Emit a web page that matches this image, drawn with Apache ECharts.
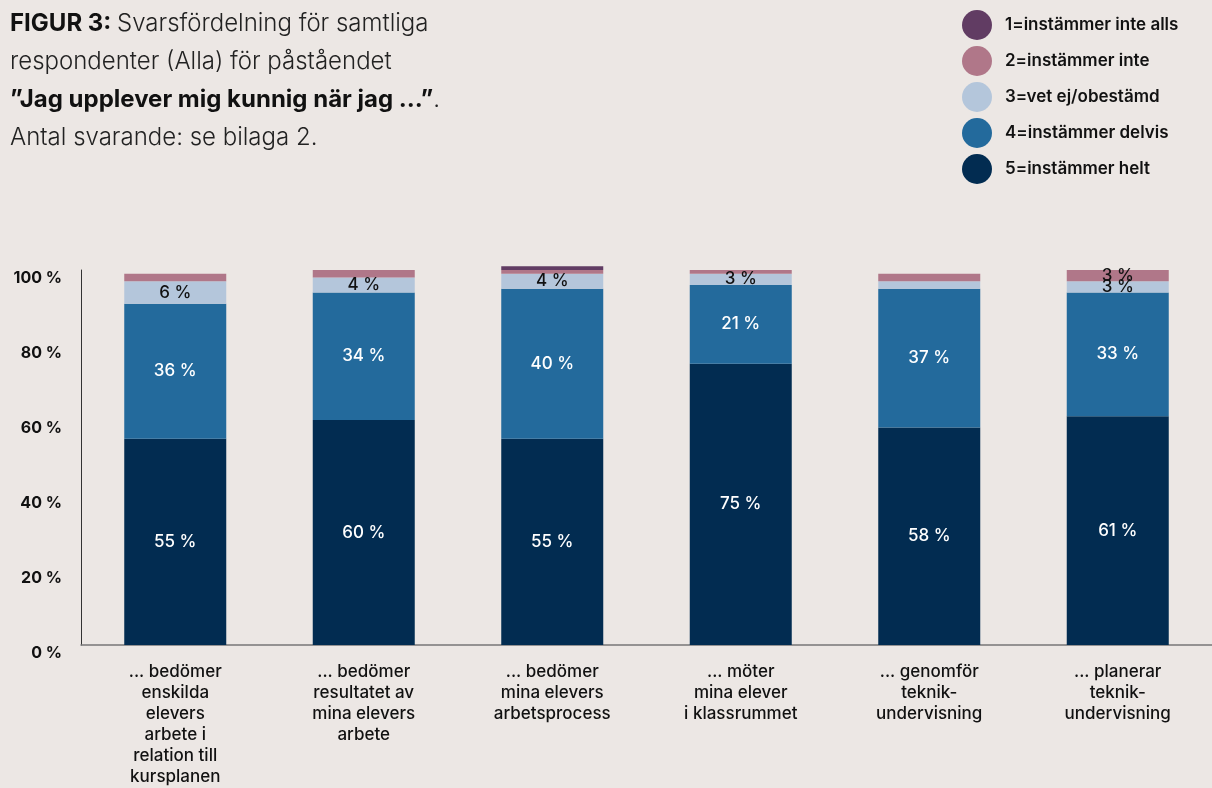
<!DOCTYPE html>
<html>
<head>
<meta charset="utf-8">
<script src="https://cdn.jsdelivr.net/npm/echarts@6/dist/echarts.min.js"></script>
<style>
html,body{margin:0;padding:0;background:#ece7e4;}
#c{width:1212px;height:788px;}
</style>
</head>
<body>
<div id="c"></div>
<script>
var categories = [
  '... bedömer\nenskilda\nelevers\narbete i\nrelation till\nkursplanen',
  '... bedömer\nresultatet av\nmina elevers\narbete',
  '... bedömer\nmina elevers\narbetsprocess',
  '... möter\nmina elever\ni klassrummet',
  '... genomför\nteknik-\nundervisning',
  '... planerar\nteknik-\nundervisning'
];
var seriesNames = ['1=instämmer inte alls','2=instämmer inte','3=vet ej/obestämd','4=instämmer delvis','5=instämmer helt'];
var inteAlls = [0, 0, 1, 0, 0, 0];
var inte     = [2, 2, 1, 1, 2, 3];
var vetEj    = [6, 4, 4, 3, 2, 3];
var delvis   = [36, 34, 40, 21, 37, 33];
var helt     = [55, 60, 55, 75, 58, 61];
var yTicks = [0, 20, 40, 60, 80, 100];

var colors = ['#613c63', '#b07789', '#b4c6db', '#236a9c', '#022c51'];
var labelColors = ['#111', '#111', '#111', '#fff', '#fff'];
var FONT = 'Inter, "Noto Sans", sans-serif';

function mk(idx, data) {
  return {
    name: seriesNames[idx],
    type: 'bar',
    stack: 'a',
    data: data,
    barWidth: 102,
    clip: false,
    itemStyle: { color: colors[idx] },
    label: {
      show: true,
      position: 'inside',
      fontFamily: FONT,
      fontSize: 17,
      fontWeight: 500,
      color: labelColors[idx],
      formatter: function (p) { return p.value >= 3 ? p.value + ' %' : ''; }
    },
    emphasis: { disabled: true }
  };
}

var chart = echarts.init(document.getElementById('c'));
chart.setOption({
  backgroundColor: '#ece7e4',
  animation: false,
  title: {
    left: 10, top: 5, padding: 0,
    text: '{b|FIGUR 3:} {r|Svarsfördelning för samtliga}\n{r|respondenter (Alla) för påståendet}\n{b|”Jag upplever mig kunnig när jag ...”}{r|.}\n{r|Antal svarande: se bilaga 2.}',
    textStyle: {
      fontFamily: FONT,
      fontSize: 24,
      lineHeight: 38,
      color: '#1a1a1a',
      rich: {
        b: { fontFamily: FONT, fontSize: 24, fontWeight: 'bold', color: '#111', lineHeight: 38 },
        r: { fontFamily: FONT, fontSize: 24, fontWeight: 300, color: '#222', lineHeight: 38 }
      }
    }
  },
  legend: {
    orient: 'vertical',
    left: 962, top: 10, padding: 0,
    itemWidth: 30, itemHeight: 30, itemGap: 6,
    icon: 'circle',
    data: seriesNames.slice(),
    selectedMode: false,
    textStyle: { fontFamily: FONT, fontSize: 17, fontWeight: 600, color: '#111', padding: [0, 0, 0, 8] }
  },
  grid: { left: 81, right: 0, top: 270, bottom: 143, containLabel: false },
  xAxis: {
    type: 'category',
    data: categories,
    axisLine: { show: true, lineStyle: { color: '#777', width: 1.5 } },
    axisTick: { show: false },
    axisLabel: {
      interval: 0,
      margin: 16,
      fontFamily: FONT, fontSize: 17, fontWeight: 500, color: '#111', lineHeight: 21, align: 'center'
    }
  },
  yAxis: {
    type: 'value',
    min: 0, max: 100, interval: 20,
    splitLine: { show: false },
    axisLine: { show: true, lineStyle: { color: '#333', width: 1 } },
    axisTick: { show: false },
    axisLabel: {
      margin: 19,
      fontFamily: FONT, fontSize: 16, fontWeight: 'bold', color: '#111',
      verticalAlign: 'top', padding: [0, 0, 0, 0],
      formatter: function (v) { return yTicks.indexOf(v) >= 0 ? v + ' %' : ''; }
    }
  },
  series: [
    mk(4, helt),
    mk(3, delvis),
    mk(2, vetEj),
    mk(1, inte),
    mk(0, inteAlls)
  ]
});
</script>
</body>
</html>
